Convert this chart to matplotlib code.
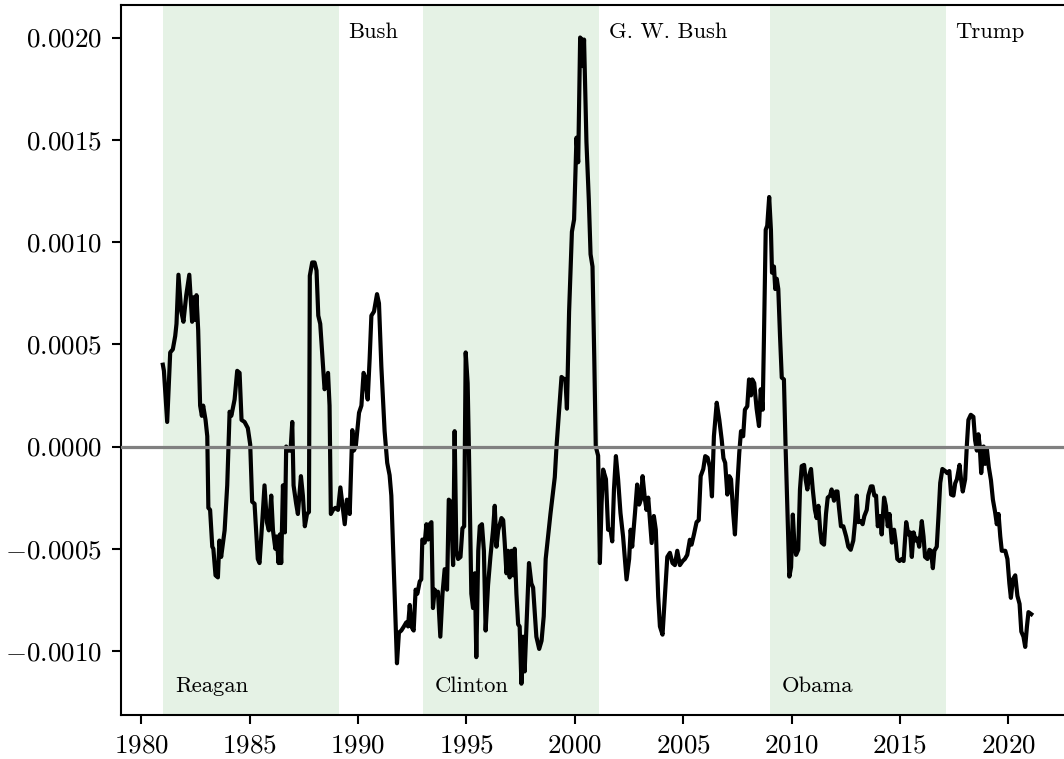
import numpy as np
import matplotlib
matplotlib.use('Agg')
import matplotlib.pyplot as plt

plt.rcParams['font.family'] = 'serif'
plt.rcParams['font.serif'] = ['cmr10']
plt.rcParams['mathtext.fontset'] = 'cm'
plt.rcParams['axes.formatter.use_mathtext'] = True

# series: decimal year, value in units of 1e-4
years = [
    1981.00, 1981.05, 1981.20, 1981.34, 1981.46, 1981.57, 1981.63, 1981.72, 1981.85, 1981.95,
    1982.08, 1982.22, 1982.35, 1982.43, 1982.49, 1982.55, 1982.63, 1982.72, 1982.80, 1982.86,
    1982.97, 1983.05, 1983.10, 1983.18, 1983.28, 1983.33, 1983.43, 1983.54, 1983.61, 1983.69,
    1983.85, 1983.97, 1984.08, 1984.16, 1984.31, 1984.43, 1984.54, 1984.63, 1984.77, 1984.92,
    1985.03, 1985.12, 1985.23, 1985.38, 1985.46, 1985.59, 1985.69, 1985.80, 1985.89, 1986.00,
    1986.08, 1986.19, 1986.25, 1986.34, 1986.40, 1986.46, 1986.54, 1986.63, 1986.69, 1986.81,
    1986.89, 1986.97, 1987.03, 1987.15, 1987.23, 1987.37, 1987.46, 1987.55, 1987.65, 1987.74,
    1987.78, 1987.89, 1988.00, 1988.09, 1988.17, 1988.26, 1988.38, 1988.46, 1988.54, 1988.62,
    1988.69, 1988.75, 1988.85, 1988.96, 1989.08, 1989.19, 1989.28, 1989.39, 1989.49, 1989.62,
    1989.74, 1989.81, 1989.90, 1990.05, 1990.16, 1990.26, 1990.33, 1990.45, 1990.54, 1990.62,
    1990.74, 1990.88, 1990.97, 1991.08, 1991.23, 1991.35, 1991.46, 1991.54, 1991.65, 1991.73,
    1991.80, 1991.89, 1992.00, 1992.12, 1992.23, 1992.31, 1992.39, 1992.46, 1992.57, 1992.66,
    1992.74, 1992.85, 1992.92, 1992.97, 1993.08, 1993.16, 1993.24, 1993.31, 1993.39, 1993.46,
    1993.54, 1993.62, 1993.69, 1993.80, 1993.90, 1994.00, 1994.11, 1994.19, 1994.28, 1994.39,
    1994.46, 1994.54, 1994.62, 1994.73, 1994.82, 1994.90, 1994.97, 1995.06, 1995.12, 1995.23,
    1995.31, 1995.39, 1995.46, 1995.55, 1995.62, 1995.72, 1995.81, 1995.89, 1996.00, 1996.11,
    1996.23, 1996.31, 1996.39, 1996.47, 1996.62, 1996.70, 1996.77, 1996.85, 1996.92, 1997.00,
    1997.08, 1997.16, 1997.23, 1997.31, 1997.39, 1997.46, 1997.54, 1997.62, 1997.69, 1997.82,
    1997.89, 1998.00, 1998.08, 1998.23, 1998.36, 1998.47, 1998.57, 1998.66, 1998.77, 1998.88,
    1999.00, 1999.08, 1999.16, 1999.28, 1999.39, 1999.50, 1999.57, 1999.64, 1999.74, 1999.87,
    1999.97, 2000.08, 2000.16, 2000.25, 2000.33, 2000.38, 2000.43, 2000.54, 2000.65, 2000.73,
    2000.82, 2000.90, 2000.97, 2001.08, 2001.16, 2001.24, 2001.31, 2001.44, 2001.54, 2001.65,
    2001.73, 2001.81, 2001.90, 2002.00, 2002.11, 2002.23, 2002.39, 2002.51, 2002.58, 2002.65,
    2002.78, 2002.88, 2002.97, 2003.05, 2003.13, 2003.24, 2003.31, 2003.39, 2003.47, 2003.55,
    2003.65, 2003.74, 2003.85, 2003.93, 2004.05, 2004.16, 2004.27, 2004.39, 2004.51, 2004.62,
    2004.73, 2004.85, 2004.98, 2005.08, 2005.19, 2005.31, 2005.39, 2005.50, 2005.62, 2005.72,
    2005.81, 2005.93, 2006.02, 2006.13, 2006.23, 2006.33, 2006.42, 2006.55, 2006.67, 2006.78,
    2006.86, 2006.94, 2007.04, 2007.13, 2007.21, 2007.31, 2007.39, 2007.50, 2007.59, 2007.67,
    2007.77, 2007.85, 2007.96, 2008.04, 2008.13, 2008.19, 2008.28, 2008.39, 2008.50, 2008.58,
    2008.67, 2008.73, 2008.81, 2008.88, 2008.97, 2009.05, 2009.10, 2009.19, 2009.25, 2009.32,
    2009.39, 2009.47, 2009.55, 2009.65, 2009.73, 2009.82, 2009.90, 2009.98, 2010.06, 2010.13,
    2010.21, 2010.31, 2010.39, 2010.47, 2010.58, 2010.65, 2010.73, 2010.82, 2010.90, 2010.98,
    2011.08, 2011.16, 2011.24, 2011.32, 2011.39, 2011.50, 2011.59, 2011.67, 2011.78, 2011.85,
    2011.96, 2012.05, 2012.12, 2012.19, 2012.28, 2012.39, 2012.52, 2012.62, 2012.73, 2012.85,
    2012.93, 2013.01, 2013.08, 2013.19, 2013.28, 2013.36, 2013.47, 2013.54, 2013.66, 2013.74,
    2013.82, 2013.90, 2013.98, 2014.09, 2014.16, 2014.27, 2014.35, 2014.44, 2014.52, 2014.63,
    2014.73, 2014.81, 2014.88, 2014.98, 2015.09, 2015.17, 2015.29, 2015.39, 2015.47, 2015.55,
    2015.63, 2015.73, 2015.81, 2015.89, 2016.01, 2016.09, 2016.16, 2016.27, 2016.36, 2016.43,
    2016.52, 2016.59, 2016.70, 2016.78, 2016.86, 2016.96, 2017.09, 2017.18, 2017.28, 2017.36,
    2017.47, 2017.55, 2017.63, 2017.70, 2017.75, 2017.82, 2017.90, 2018.01, 2018.09, 2018.16,
    2018.27, 2018.39, 2018.47, 2018.55, 2018.62, 2018.68, 2018.75, 2018.86, 2018.93, 2019.01,
    2019.10, 2019.20, 2019.29, 2019.39, 2019.47, 2019.55, 2019.63, 2019.70, 2019.86, 2019.96,
    2020.05, 2020.12, 2020.21, 2020.32, 2020.42, 2020.52, 2020.60, 2020.70, 2020.78, 2020.86,
    2020.93, 2021.06,
]
values_e4 = [
    4.0, 3.7, 1.2, 4.6, 4.75, 5.4, 6.0, 8.4, 6.6, 6.1,
    7.4, 8.4, 6.1, 7.3, 6.2, 7.4, 5.7, 2.0, 1.5, 2.0,
    1.3, 0.5, -3.0, -3.1, -4.9, -5.0, -6.3, -6.4, -4.6, -5.4,
    -4.1, -1.9, 1.7, 1.5, 2.3, 3.7, 3.6, 1.3, 1.2, 0.9,
    0.1, -2.7, -2.8, -5.5, -5.7, -3.6, -1.9, -3.7, -4.1, -2.4,
    -4.1, -5.0, -4.4, -5.7, -4.3, -5.7, -1.9, -4.2, 0.0, -0.2,
    -0.2, 1.2, -1.9, -2.8, -3.3, -1.45, -2.4, -3.9, -3.3, -3.2,
    8.35, 9.0, 9.0, 8.6, 6.4, 6.0, 4.1, 2.8, 3.0, 3.6,
    2.0, -3.3, -3.1, -3.0, -3.1, -2.0, -2.8, -3.8, -2.6, -3.3,
    0.8, -0.2, 0.0, 1.65, 2.0, 3.6, 3.4, 2.3, 4.3, 6.4,
    6.6, 7.45, 7.0, 3.9, 0.75, -0.8, -1.4, -2.4, -5.9, -8.3,
    -10.6, -9.1, -9.0, -8.8, -8.6, -8.8, -7.75, -8.8, -9.0, -7.0,
    -7.2, -6.6, -6.5, -4.55, -4.7, -3.8, -4.55, -3.8, -3.7, -7.9,
    -7.0, -7.2, -7.1, -9.3, -7.2, -6.0, -7.0, -2.6, -2.7, -5.8,
    0.75, -5.1, -5.5, -5.4, -4.0, -3.9, 4.6, 3.1, -0.2, -7.2,
    -7.9, -6.2, -10.3, -5.1, -3.9, -3.8, -5.1, -9.0, -6.8, -5.4,
    -4.1, -2.9, -4.9, -4.1, -3.5, -3.6, -4.7, -6.2, -5.1, -6.4,
    -5.1, -6.3, -5.0, -7.2, -8.7, -8.8, -11.6, -9.3, -11.0, -7.6,
    -5.7, -6.7, -6.9, -9.3, -9.9, -9.5, -8.3, -5.5, -4.4, -3.3,
    -2.2, -1.5, 0.0, 1.75, 3.4, 3.3, 3.3, 1.85, 6.6, 10.5,
    11.1, 15.1, 13.9, 20.0, 19.9, 18.6, 19.9, 14.9, 12.05, 9.4,
    8.8, 4.4, 0.0, -0.45, -5.7, -2.76, -1.13, -1.6, -4.07, -4.07,
    -4.64, -2.1, -0.47, -1.6, -3.25, -4.4, -6.5, -5.5, -4.07, -4.9,
    -3.25, -1.86, -2.84, -2.6, -1.45, -2.6, -3.1, -2.5, -3.58, -4.72,
    -3.4, -4.07, -7.34, -8.8, -9.2, -7.34, -5.4, -5.2, -5.7, -5.8,
    -5.1, -5.8, -5.6, -5.5, -5.3, -4.56, -4.8, -4.3, -3.7, -3.6,
    -1.45, -1.1, -0.47, -0.55, -1.0, -2.44, 0.5, 2.14, 1.3, 0.33,
    -0.57, -0.8, -2.35, -1.45, -1.6, -3.25, -4.3, -1.93, -0.3, 0.75,
    0.5, 1.8, 1.97, 3.28, 2.5, 3.28, 3.1, 1.85, 1.0, 2.8,
    1.8, 5.4, 10.6, 10.8, 12.2, 10.6, 8.5, 8.8, 7.7, 8.2,
    7.7, 5.4, 3.37, 3.28, -0.15, -3.4, -6.36, -5.9, -3.33, -4.7,
    -5.3, -5.05, -2.1, -0.96, -0.9, -1.6, -2.1, -1.4, -1.1, -2.1,
    -3.1, -3.5, -2.9, -4.07, -4.7, -4.8, -3.3, -2.5, -2.4, -2.1,
    -2.65, -2.2, -2.2, -3.0, -3.9, -3.9, -4.4, -4.9, -5.05, -4.6,
    -3.7, -2.4, -3.7, -3.65, -3.8, -3.4, -3.1, -2.4, -1.95, -1.95,
    -2.4, -2.4, -3.9, -3.4, -4.3, -2.5, -2.9, -3.9, -3.3, -4.7,
    -4.07, -4.7, -5.5, -5.6, -5.5, -5.6, -3.7, -4.3, -4.2, -5.4,
    -4.2, -4.6, -4.5, -4.9, -3.65, -4.4, -5.4, -5.5, -5.05, -5.1,
    -5.95, -5.1, -4.9, -3.4, -1.78, -1.1, -1.2, -1.3, -1.2, -2.35,
    -2.4, -1.8, -1.6, -1.2, -0.9, -1.6, -2.2, -1.6, 0.1, 1.3,
    1.55, 1.45, 0.3, -0.2, 0.6, 0.05, -1.3, 0.0, -0.85, -0.1,
    -1.0, -1.65, -2.6, -3.2, -3.8, -3.3, -4.4, -5.1, -5.1, -5.5,
    -6.7, -7.4, -6.5, -6.3, -7.3, -7.7, -9.05, -9.3, -9.8, -8.8,
    -8.1, -8.2,
]

# presidencies
presidents = ['Reagan', 'Bush', 'Clinton', 'G. W. Bush', 'Obama', 'Trump']
term_start = [1981.0, 1989.12, 1993.0, 2001.12, 2009.0, 2017.12]
term_end = [1989.12, 1993.0, 2001.12, 2009.0, 2017.12, 2021.1]
shaded = [True, False, True, False, True, False]

t = np.array(years)
y = np.array(values_e4) * 1e-4

fig = plt.figure(figsize=(10.64, 7.59), dpi=100)
ax = fig.add_axes([121 / 1064, 44 / 759, 954.5 / 1064, 710 / 759])

for name, a, b, sh in zip(presidents, term_start, term_end, shaded):
    if sh:
        ax.axvspan(a, b, color='green', alpha=0.1, lw=0, zorder=0)
        ax.text(a + 0.55, -0.0012, name, fontsize=16.3, va='baseline', ha='left')
    else:
        ax.text(a + 0.45, 0.0020, name, fontsize=16.3, va='baseline', ha='left')

ax.plot(t, y, color='k', lw=3.0, zorder=2)
ax.axhline(0, color='gray', lw=2.3, zorder=3)

ax.set_xlim(1979.07, 2023.1)
ax.set_ylim(-0.001313, 0.002159)
ax.set_xticks(np.arange(1980, 2021, 5))
ax.set_yticks([-0.0010, -0.0005, 0.0, 0.0005, 0.0010, 0.0015, 0.0020])
ax.yaxis.set_major_formatter(matplotlib.ticker.FormatStrFormatter('$%.4f$'))

for s in ax.spines.values():
    s.set_linewidth(1.5)
ax.tick_params(axis='both', labelsize=19.5, length=6.5, width=1.5, pad=7)

fig.savefig('out.png', dpi=100)
